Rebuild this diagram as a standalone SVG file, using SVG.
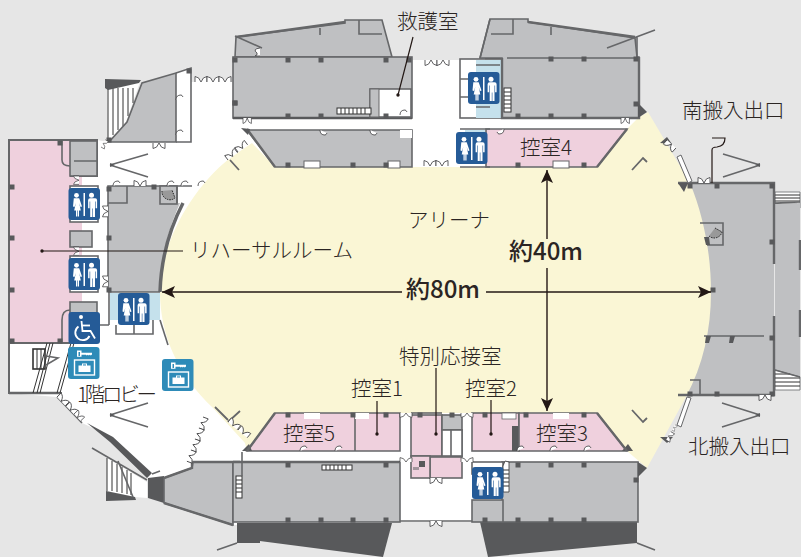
<svg xmlns="http://www.w3.org/2000/svg" xmlns:xlink="http://www.w3.org/1999/xlink" width="801" height="557" viewBox="0 0 801 557">
<style>
text{font-family:"Noto Sans CJK JP","Noto Sans",sans-serif;fill:#2b2523;font-size:20.500px;font-weight:300}
.b{font-weight:500;font-size:24px}
.g{fill:#bfc0c2;stroke:#666769;stroke-width:1.6}
.g0{fill:#bfc0c2}
.pk{fill:#efd0dd;stroke:#666769;stroke-width:1.6}
.w{fill:#fff;stroke:#666769;stroke-width:1.6}
.d{fill:#58595b}
.l{fill:none;stroke:#666769;stroke-width:1.6}
.t{fill:none;stroke:#666769;stroke-width:2.4}
.ld{fill:none;stroke:#231815;stroke-width:1.2}
.ar{fill:none;stroke:#231815;stroke-width:1.4}
.ds{fill:#fff;stroke:#3a3a3c;stroke-width:.8}
.hat{stroke:#333;stroke-width:1}
</style>
<defs>
<path id="dd" class="ds" d="M0 0v5.5q4 0 6-5.5q2 5.5 6 5.5v-5.5"/>
<path id="sd" class="ds" d="M0 0q0-5 5-5q1 0 2 2"/>
<rect id="p" class="d" x="-2.5" y="-2.5" width="5" height="5"/>
<marker id="ah" markerWidth="14" markerHeight="12" refX="13" refY="6" orient="auto" markerUnits="userSpaceOnUse"><path d="M0 0L13 6L0 12L3 6Z" fill="#231815"/></marker>
<g id="wc">
<rect width="31.500" height="32" rx="3" fill="#255b97"/>
<rect x="15" y="5" width="1.500" height="23" fill="#fff"/>
<g fill="#fff">
<circle cx="8" cy="7.300" r="2.400"/><path d="M5.300 10.300h5.400l2.800 8.200l-1.500.6l-1.300-4l1.600 7.400h-1.800v6h-1.200v-6h-.6v6h-1.200v-6h-1.800l1.600-7.400l-1.300 4l-1.500-.6z"/>
<circle cx="23" cy="7.300" r="2.500"/><path d="M19.400 10.300h7.200q2 0 2 2v8h-1.500v-6.800h-.6v15.500h-2.100v-8.500h-.6v8.500h-2.100v-15.500h-.6v6.800h-1.500v-8q0-2 2-2z"/>
</g></g>
<g id="key">
<rect width="31.500" height="32" rx="3" fill="#2e8bb8"/>
<path fill="#fff" fill-rule="evenodd" d="M9 3.500h4.500v2.300h10.500v1.700l-1.200 1l-1-.8l-1 .8l-1-.8l-1 .8l-1-.8h-4.300v2h-4.500zM10.500 5v4h1.500v-4z"/>
<rect x="6.500" y="13" width="20" height="15" fill="none" stroke="#fff" stroke-width="1.400"/>
<path fill="#fff" d="M10.500 18.500h3.500v-2h5v2h3.500v6.500h-12z"/>
<path fill="#2e8bb8" d="M15 17.400h3v1.100h-3z"/>
</g>
</defs>

<rect id="bg" width="801" height="557" fill="#e6e6e6"/>

<g id="building">
<polygon fill="#fff" points="9,140 97,140 108,142 176,73 191,68 191,82 233,82 233,60 640,60 640,462 638,522 400,522 233,525 164,503 148,478 113,437 82,423 57,397 9,393"/>
</g>

<g id="arena">
<path fill="#bfc0c2" d="M678,183H774V395H678Z"/>
<path fill="#faf6d5" d="M275,167H597L627,129L638,118L648,112L690,183C704,217 711,255 711,292C711,330 703,365 686,397L647,468L640,462L627,451L597,413H275L247,451L245,443L213,408C178,375 160,335 160,292C160,245 190,190 230,158L252,143Z"/>
</g>

<g id="left-wing">
<path fill="#efd0dd" d="M10,141H70V176H82V343H10Z"/>
<path class="l" d="M9,343V140H97V176H70M9,343V393H62M9,343H70" style="stroke-width:2"/>
<path class="t" d="M9,393H60"/>
<rect class="g" x="70" y="141" width="27" height="35"/>
<path class="l" d="M62,140V160Q62,166 70,166M74,161H97"/>
<rect class="g" x="70" y="231" width="22" height="16"/>
<rect class="g" x="70" y="302" width="27" height="14"/>
<path class="l" d="M62,343V320Q62,310 70,310"/>
<rect class="w" x="70" y="186" width="28" height="36"/>
<rect class="w" x="70" y="256" width="28" height="36"/>
<rect class="w" x="33" y="349" width="12" height="20" style="stroke:#333"/>
<path class="hat" d="M37,349V369M41,349V369M33,393L47,343M37,393L50,343M40,393L53,343M57,393L71,343M60,393L74,343"/>
<path class="l" d="M46,356L58,358L46,365"/>
<path class="g0" d="M108,186H177V203L180,203C168,230 160,260 160,292H108Z"/>
<path class="l" d="M108,292V186H192"/>
<path d="M183,203C170,228 161,260 160,292" fill="none" stroke="#666769" stroke-width="3.500"/>
<path class="l" d="M108,292H160M127,186V203H108"/>
<rect class="g" x="160" y="186" width="17" height="18"/>
<path d="M162,191A8 8 0 0 0 175,198L172,190" fill="#999" stroke="#222" stroke-width="1" stroke-dasharray="1.500 1"/>
<path class="l" d="M177,186V203"/>
<rect fill="#c5e1ec" x="110" y="293" width="50" height="27"/>
<path class="l" d="M109,292V325M116,325V334H153V320M134,325V334M109,325H100"/>
<path class="l" d="M160,320L168,345"/>
</g>

<g id="stairs">
<polygon fill="#fff" points="107,82 140,82 126,122 108,142"/>
<path class="hat" d="M108,88V140M113,88V135M118,88V130M123,88V126M128,88V116M133,88V103"/>
<polygon class="d" points="105,79 141,80 139,83 108,90 105,88"/>
<polygon class="g" points="109,142 176,142 176,73 142,83 127,122"/>
<path class="l" d="M176,73L191,68V142H176"/>
<polygon fill="#fff" points="107,458 147,482 147,498 135,497 107,491"/>
<path class="hat" d="M107,458V491M112,461V491M117,464V492M122,467V493M127,470V494M131,473V495"/>
<polygon class="d" points="106,491 135,497 136,500 106,501"/>
<path class="l" d="M92,448L147,480M118,461L133,497"/>
<polygon class="d" points="87,423 113,437 152,473 147,478 110,442"/>
<path class="l" d="M57,397L82,423M152,474L160,471"/>
<polygon fill="#fff" stroke="#666769" stroke-width=".8" points="775,192 800,192 800,208 775,203"/>
<path class="hat" d="M775,195H800M775,198H800M775,201H800M775,204H797"/>
<polygon class="g0" points="775,204 800,203 800,377 775,370"/>
<polygon fill="#fff" stroke="#666769" stroke-width=".8" points="775,370 800,377 800,390 775,390"/>
<path class="hat" d="M775,374H790M775,378H800M775,382H800M775,386H800"/>
<path class="t" d="M800,240V270M800,310V337"/>
<path class="l" d="M775,203L800,202M775,370L800,377"/>
</g>

<g id="north-block">
<polygon class="g" points="235,57 236,37 345,23 345,20 382,20 392,57"/>
<path d="M236,37L345,22" class="t"/>
<path class="l" d="M359,20V34H382M320,28V35M262,48L235,36"/>
<path class="ds" d="M260,48q-8 1-3 5q1 2-2 3l5 0"/>
<rect class="g" x="233" y="57" width="179" height="61"/>
<path d="M233,118H412" fill="none" stroke="#58595b" stroke-width="2.400"/>
<rect class="w" x="370" y="89" width="41" height="28"/>
<rect fill="#bfc0c2" stroke="#666769" x="370" y="89" width="9" height="28"/>
<rect fill="#fff" stroke="#333" x="337" y="108" width="34" height="6"/>
<path class="hat" d="M341,108V114M345,108V114M349,108V114M353,108V114M357,108V114M361,108V114M365,108V114"/>
<polygon class="g" points="247,130 412,130 412,167 275,167"/>
<path d="M247,129L275,167" class="t"/>
<polygon class="d" points="241,128 250,129 248,135"/>
<rect x="304" y="161" width="16" height="7" fill="#fff" stroke="#666769"/>
<rect x="388" y="161" width="12" height="7" fill="#fff" stroke="#666769"/>
<rect x="400" y="130" width="12" height="8" fill="#fff"/>
<rect class="w" x="460" y="59" width="42" height="59" style="stroke-width:1.600"/>
<path fill="#c5e1ec" d="M476,60H502V118H476Z"/>
<rect x="462" y="60" width="14" height="18" fill="#fff"/><rect x="462" y="96" width="14" height="21" fill="#fff"/>
<path class="l" d="M460,79H472M460,97H472M476,65H500M476,107H490"/>
<path d="M485,58H502" fill="none" stroke="#58595b" stroke-width="2.500"/>
<polygon class="g" points="502,58 480,58 490,19 528,19 528,22 635,38 637,57 639,57 639,118 502,118"/>
<path class="t" d="M528,22L635,37M502,58V118H639V57"/>
<path class="l" d="M490,19L480,58M491,34H513V19M551,27V35M507,58H637M637,37V57M607,48L655,30"/>
<rect fill="#fff" stroke="#333" x="504" y="88" width="7" height="24"/>
<path class="hat" d="M504,92H511M504,96H511M504,100H511M504,104H511M504,108H511"/>
<polygon class="pk" points="486,129 627,129 597,167 486,167"/>
<path class="t" d="M627,129L597,167"/>
<rect x="553" y="161" width="16" height="7" fill="#fff" stroke="#666769"/>
<path class="l" d="M460,129H490M460,167H490"/>
<path fill="#c5e1ec" d="M465,130h20v5h-20z"/>
<polygon class="d" points="638,103 647,112 638,118"/>
</g>

<g id="south-block">
<polygon class="d" points="237,523 392,523 383,557 237,538"/>
<polygon class="d" points="480,522 637,522 637,543 488,557"/>
<polygon class="d" points="237,525 260,525 260,543 237,543"/>
<path class="l" d="M217,550L237,543M637,543L655,550"/>
<polygon class="d" points="148,478 164,476 164,503 148,498"/>
<polygon class="g" points="164,478 192,468 193,462 233,462 233,525 164,503"/>
<path class="t" d="M164,503L233,525M164,478L192,468V462H240"/>
<rect class="g" x="233" y="462" width="167" height="60"/>
<path d="M233,462H400" fill="none" stroke="#666769" stroke-width="2.400"/>
<rect fill="#fff" stroke="#333" x="322" y="465" width="30" height="5"/>
<path class="hat" d="M326,465V470M330,465V470M334,465V470M338,465V470M342,465V470M346,465V470"/>
<rect fill="#fff" stroke="#333" x="236" y="476" width="6" height="22"/>
<path class="hat" d="M236,480H242M236,484H242M236,488H242M236,492H242"/>
<path class="l" d="M242,452V476"/>
<path class="l" d="M400,521H472"/>
<rect class="g" x="502" y="462" width="136" height="60"/>
<rect class="g" x="472" y="500" width="31" height="22"/>
<rect class="w" x="472" y="462" width="31" height="12"/>
<polygon fill="#fff" stroke="#333" stroke-width=".8" points="503,466 505,461 509,462 509,492 503,492"/>
<path class="hat" d="M503,470H509M503,474H509M503,478H509M503,482H509M503,486H509"/>
<polygon class="pk" points="275,413 400,413 400,451 247,451"/>
<path class="l" d="M355,413V451"/>
<rect x="304" y="413" width="16" height="6" fill="#fff"/><rect x="355" y="413" width="14" height="6" fill="#fff"/>
<polygon class="d" points="242,451 249,444 252,451"/>
<path class="t" d="M275,413L247,451"/>
<rect class="pk" x="411" y="415" width="31" height="41"/>
<path class="l" d="M411,413H442"/>
<rect class="g" x="442" y="415" width="20" height="15"/>
<rect class="w" x="442" y="430" width="20" height="26"/>
<rect class="pk" x="430" y="457" width="32" height="21"/>
<rect class="pk" x="411" y="456" width="19" height="22"/>
<rect class="w" x="451" y="430" width="11" height="26"/>
<rect class="d" x="419" y="461" width="6" height="6"/>
<rect class="d" x="413" y="467" width="6" height="3" style="opacity:.5"/>
<rect class="pk" x="472" y="413" width="47" height="38"/>
<rect class="d" x="512" y="426" width="7" height="25"/>
<rect x="502" y="413" width="14" height="6" fill="#fff" stroke="#666769" stroke-width=".8"/>
<polygon class="pk" points="519,413 597,413 627,451 519,451"/>
<rect x="553" y="413" width="16" height="6" fill="#fff"/>
<polygon class="d" points="622,451 628,444 633,451"/>
<path class="t" d="M597,413L627,451"/>
<polygon class="d" points="638,462 647,468 638,477"/>
</g>

<g id="east-block">
<path class="t" d="M678,183H774V264M774,316V395H678"/>
<path class="l" d="M704,336H764M690,380H700V396"/>
<path d="M700,223H723V245H707" class="l"/>
<path d="M709,236A8 8 0 0 0 722,232L715,228" fill="#999" stroke="#222" stroke-width="1" stroke-dasharray="1.500 1"/>
<path class="d" d="M704,237h5l1,8h-4zM706,336h5l-2,7h-4zM730,336h5l-2,7h-4z"/>
<path d="M712,183V150Q712,147 717,147Q725,146 725,138H712" fill="none" stroke="#231815" stroke-width="1.200"/>
<polygon class="d" points="678,183 688,183 684,192"/>
</g>

<g id="strips">
<path fill="#fff" stroke="#666769" d="M677,157L681,155L692,181L688,183Z"/>
<path fill="#fff" stroke="#666769" d="M677,425L681,427L691,398L687,397Z"/>
<polygon class="d" points="660,143 667,137 672,144"/>
<polygon class="d" points="660,437 673,437 667,443"/>
<path class="l" d="M632,170L643,158L647,162M632,410L643,422L647,418M230,160L239,170M228,422L240,411M215,407L228,420" style="stroke-width:1.800"/>
<path class="l" d="M110,165L148,154M110,165L148,177M110,415L148,403M110,415L148,427M760,165L723,154M760,165L723,177M760,415L722,403M760,415L722,427"/>
<polygon class="d" points="110,163 115,165 110,167"/><polygon class="d" points="110,413 115,415 110,417"/>
<polygon class="d" points="760,163 755,165 760,167"/><polygon class="d" points="760,413 755,415 760,417"/>
</g>

<g id="pillars">
<use href="#p" x="12" y="187"/><use href="#p" x="12" y="238"/><use href="#p" x="12" y="290"/><use href="#p" x="12" y="341"/>
<use href="#p" x="60" y="143"/><use href="#p" x="60" y="341"/><use href="#p" x="109" y="238"/><use href="#p" x="109" y="290"/><use href="#p" x="109" y="189"/><use href="#p" x="154" y="187"/>
<use href="#p" x="189" y="71"/><use href="#p" x="235" y="103"/><use href="#p" x="109" y="140"/>
<use href="#p" x="235" y="60"/><use href="#p" x="288" y="60"/><use href="#p" x="321" y="60"/><use href="#p" x="386" y="60"/><use href="#p" x="409" y="60"/><use href="#p" x="235" y="103"/>
<use href="#p" x="288" y="116"/><use href="#p" x="321" y="116"/><use href="#p" x="386" y="116"/><use href="#p" x="288" y="165"/><use href="#p" x="353" y="165"/><use href="#p" x="386" y="165"/>
<use href="#p" x="551" y="59"/><use href="#p" x="584" y="59"/><use href="#p" x="636" y="59"/><use href="#p" x="636" y="104"/><use href="#p" x="518" y="116"/><use href="#p" x="551" y="116"/><use href="#p" x="584" y="116"/><use href="#p" x="518" y="165"/><use href="#p" x="584" y="165"/>
<use href="#p" x="690" y="186"/><use href="#p" x="717" y="186"/><use href="#p" x="772" y="186"/><use href="#p" x="772" y="242"/><use href="#p" x="772" y="338"/><use href="#p" x="772" y="394"/><use href="#p" x="717" y="394"/><use href="#p" x="690" y="394"/><use href="#p" x="713" y="290"/>
<use href="#p" x="288" y="465"/><use href="#p" x="386" y="465"/><use href="#p" x="288" y="520"/><use href="#p" x="321" y="520"/><use href="#p" x="353" y="520"/><use href="#p" x="386" y="520"/>
<use href="#p" x="518" y="465"/><use href="#p" x="551" y="465"/><use href="#p" x="584" y="465"/><use href="#p" x="518" y="520"/><use href="#p" x="551" y="520"/><use href="#p" x="584" y="520"/><use href="#p" x="485" y="520"/><use href="#p" x="636" y="480"/>
<use href="#p" x="288" y="415"/><use href="#p" x="353" y="415"/><use href="#p" x="386" y="415"/><use href="#p" x="420" y="415"/><use href="#p" x="452" y="415"/><use href="#p" x="485" y="415"/><use href="#p" x="526" y="415"/><use href="#p" x="584" y="415"/>
</g>

<g id="doors">
<use href="#dd" transform="translate(195,82) scale(1,-1)"/><use href="#dd" transform="translate(207,82) scale(1,-1)"/><use href="#dd" transform="translate(219,82) scale(1,-1)"/>
<use href="#dd" transform="translate(153,143)"/>
<use href="#dd" transform="translate(134,186) scale(1,-1)"/>
<use href="#dd" transform="translate(101,147) rotate(-60)scale(.7)"/>
<use href="#dd" transform="translate(228,160) rotate(-37) scale(1,-1)"/><use href="#dd" transform="translate(238,152) rotate(-37) scale(1,-1)"/>
<use href="#dd" transform="translate(57,397) rotate(46) scale(1,-1)"/><use href="#dd" transform="translate(66,406) rotate(46) scale(1,-1)"/><use href="#dd" transform="translate(74,414) rotate(46) scale(.8,-1)"/>
<use href="#dd" transform="translate(203,417) rotate(110) scale(1,-1)"/><use href="#dd" transform="translate(199,428) rotate(110) scale(1,-1)"/><use href="#dd" transform="translate(195,439) rotate(110) scale(1,-1)"/><use href="#dd" transform="translate(191,450) rotate(110) scale(1,-1)"/>
<use href="#dd" transform="translate(228,422) rotate(40) scale(1,-1)"/><use href="#dd" transform="translate(238,430) rotate(40) scale(1,-1)"/>
<use href="#dd" transform="translate(425,60)"/><use href="#dd" transform="translate(437,60)"/>
<use href="#dd" transform="translate(424,166) scale(1,-1)"/><use href="#dd" transform="translate(436,166) scale(1,-1)"/>
<use href="#dd" transform="translate(430,478)"/><use href="#dd" transform="translate(430,521)"/>
<use href="#dd" transform="translate(698,183) scale(1,-1)"/><use href="#dd" transform="translate(759,395)"/>
<use href="#dd" transform="translate(667,140) rotate(42)"/>
<use href="#dd" transform="translate(666,440) rotate(-60)scale(.8)"/><use href="#dd" transform="translate(672,430) rotate(-60)scale(.5)"/>
<use href="#sd" transform="translate(113,186)"/><use href="#sd" transform="translate(167,186)"/><use href="#sd" transform="translate(181,186)"/><use href="#sd" transform="translate(198,186)"/>
<use href="#sd" transform="translate(176,100)"/><use href="#sd" transform="translate(176,135)"/>
<use href="#sd" transform="translate(320,130) scale(1,-1)"/><use href="#sd" transform="translate(370,130) scale(1,-1)"/>
<use href="#sd" transform="translate(400,115)"/><use href="#sd" transform="translate(504,129) scale(-1,-1)"/>
<use href="#sd" transform="translate(300,451)"/><use href="#sd" transform="translate(335,451)"/>
<use href="#sd" transform="translate(517,451)"/><use href="#sd" transform="translate(550,451)"/><use href="#sd" transform="translate(584,451)"/>
<use href="#dd" transform="translate(400,413) scale(1,.8)"/><use href="#dd" transform="translate(400,462) scale(1,-.8)"/><use href="#dd" transform="translate(461,413) scale(1,.8)"/><use href="#dd" transform="translate(461,462) scale(1,-.8)"/>
<use href="#dd" transform="translate(243,118) scale(.7,1)"/><use href="#dd" transform="translate(621,118) scale(.7,1)"/>
<use href="#dd" transform="translate(79,176) rotate(90) scale(.7,1)"/><use href="#dd" transform="translate(79,247) rotate(90) scale(.7,1)"/>
<use href="#dd" transform="translate(108,206) rotate(90) scale(.9,1)"/><use href="#dd" transform="translate(108,276) rotate(90) scale(.9,1)"/>
</g>

<g id="icon-wc-1"><use href="#wc" x="68.500" y="188"/></g>
<g id="icon-wc-2"><use href="#wc" x="68.500" y="258"/></g>
<g id="icon-wc-3"><use href="#wc" x="118" y="293"/></g>
<g id="icon-wc-4"><use href="#wc" x="468" y="72"/></g>
<g id="icon-wc-5"><use href="#wc" x="456" y="132"/></g>
<g id="icon-wc-6"><use href="#wc" x="472" y="467"/></g>
<g id="icon-wheelchair">
<rect x="68.500" y="312" width="31.500" height="32" rx="3" fill="#255b97"/>
<g fill="none" stroke="#fff" stroke-width="1.800"><path d="M81.500,321L82.500,331H90.500L95,338.500"/><path d="M82,325.500H90"/><path d="M78.500,326.500A7.500 7.500 0 1 0 89.500,336"/></g>
<circle cx="81" cy="317" r="2" fill="#fff"/>
</g>
<g id="icon-key-1"><use href="#key" x="68" y="347"/></g>
<g id="icon-key-2"><use href="#key" x="162" y="359"/></g>

<g id="connectors">
<path class="ld" d="M42,251H183M413,37L398,95M436,368V434M377,401V434M491,400V434"/>
<circle cx="42" cy="251" r="1.700" fill="#231815"/><circle cx="398" cy="95" r="1.700" fill="#231815"/><circle cx="436" cy="434" r="1.700" fill="#231815"/><circle cx="377" cy="434" r="1.700" fill="#231815"/><circle cx="491" cy="434" r="1.700" fill="#231815"/>
<path class="ar" marker-end="url(#ah)" d="M402,292H162"/>
<path class="ar" marker-end="url(#ah)" d="M486,292H711"/>
<path class="ar" marker-end="url(#ah)" d="M547,239V170"/>
<path class="ar" marker-end="url(#ah)" d="M547,268V411"/>
</g>

<g id="labels">
<text x="397" y="29">救護室</text>
<text x="682" y="118">南搬入出口</text>
<text x="408" y="228">アリーナ</text>
<text x="520" y="155">控室4</text>
<text class="b" x="509" y="260">約40m</text>
<text x="190" y="258">リハーサルルーム</text>
<text class="b" x="406" y="298">約80m</text>
<text x="399" y="364">特別応接室</text>
<text x="351" y="396">控室1</text>
<text x="465" y="396">控室2</text>
<text x="77" y="402" textLength="80" lengthAdjust="spacing">1階ロビー</text>
<text x="283" y="441">控室5</text>
<text x="536" y="441">控室3</text>
<text x="688" y="454">北搬入出口</text>
</g>
</svg>
